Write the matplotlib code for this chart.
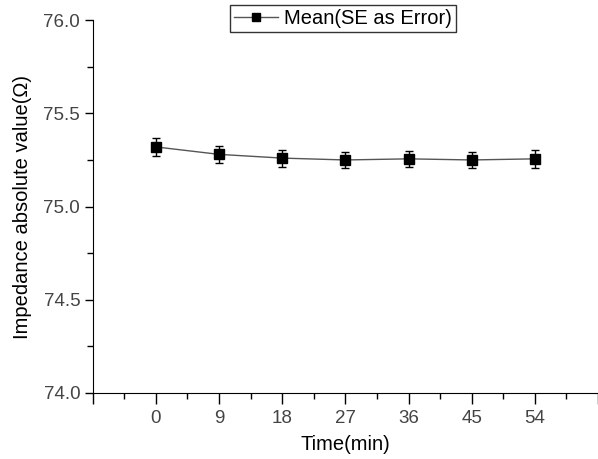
import matplotlib
matplotlib.use("Agg")
import matplotlib.pyplot as plt
from matplotlib.lines import Line2D
from matplotlib.ticker import MultipleLocator

# data
time_min = [0, 9, 18, 27, 36, 45, 54]
impedance_mean = [75.32, 75.28, 75.26, 75.25, 75.256, 75.25, 75.256]
impedance_se = [0.047, 0.047, 0.046, 0.044, 0.044, 0.044, 0.047]
x_ticks = [-9, 0, 9, 18, 27, 36, 45, 54, 63]
x_tick_labels = ["", "0", "9", "18", "27", "36", "45", "54", ""]
y_ticks = [74.0, 74.5, 75.0, 75.5, 76.0]


def main():
    plt.rcParams["font.family"] = ["Liberation Sans", "DejaVu Sans"]

    fig = plt.figure(figsize=(5.98, 4.59), dpi=100)
    ax = fig.add_axes([0.155, 0.144, 0.845, 0.812])

    ax.errorbar(time_min, impedance_mean, yerr=impedance_se,
                color="#555555", lw=1.0, marker="s", ms=7,
                mfc="black", mec="black", ecolor="black",
                elinewidth=1.0, capsize=3, capthick=1.0)

    ax.set_xlim(-9, 63)
    ax.set_ylim(74.0, 76.0)
    ax.set_xticks(x_ticks)
    ax.set_xticklabels(x_tick_labels)
    ax.xaxis.set_minor_locator(MultipleLocator(4.5))
    ax.set_yticks(y_ticks)
    ax.yaxis.set_minor_locator(MultipleLocator(0.25))

    ax.spines["top"].set_visible(False)
    ax.spines["right"].set_visible(False)
    ax.tick_params(axis="x", which="major", direction="out", length=8,
                   width=1, labelsize=13.5, labelcolor="#444444", pad=4)
    ax.tick_params(axis="y", which="major", direction="out", length=6,
                   width=1, labelsize=13.5, labelcolor="#444444", pad=3)
    ax.tick_params(which="minor", direction="out", length=4, width=1)

    ax.set_xlabel("Time(min)", fontsize=14.5, labelpad=6)
    ax.set_ylabel("Impedance absolute value(Ω)", fontsize=14.5, labelpad=8)

    handle = Line2D([], [], color="#555555", lw=1.0, marker="s", ms=6,
                    mfc="black", mec="black")
    leg = ax.legend([handle], ["Mean(SE as Error)"], loc="upper center",
                    bbox_to_anchor=(343 / 598, 1 - 5 / 459),
                    bbox_transform=fig.transFigure, fontsize=14.5,
                    frameon=True, fancybox=False, handlelength=2.2,
                    handletextpad=0.3, borderpad=0.2, borderaxespad=0)
    leg.get_frame().set_edgecolor("black")
    leg.get_frame().set_linewidth(1.0)

    fig.savefig("out.png", dpi=100)


if __name__ == "__main__":
    main()
